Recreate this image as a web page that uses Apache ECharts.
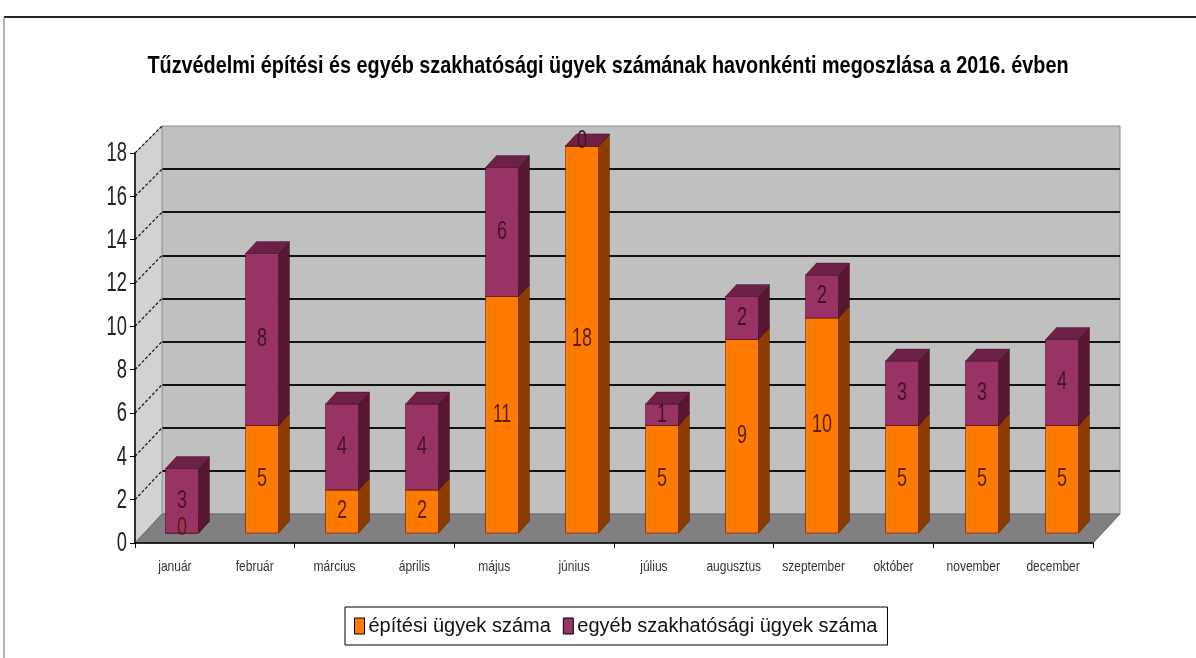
<!DOCTYPE html>
<html>
<head>
<meta charset="utf-8">
<script src="https://cdn.jsdelivr.net/npm/echarts@6/dist/echarts.min.js"></script>
<style>html,body{margin:0;padding:0;background:#fff}#c{width:1196px;height:658px}</style>
</head>
<body>
<div id="c"></div>
<script>
// ---- data ----
const categories = ['január','február','március','április','május','június','július','augusztus','szeptember','október','november','december'];
const epitesi = [0, 5, 2, 2, 11, 18, 5, 9, 10, 5, 5, 5];
const egyeb   = [3, 8, 4, 4, 6, 0, 1, 2, 2, 3, 3, 4];
const yMin = 0, yMax = 18, yStep = 2;
const titleText = 'Tűzvédelmi építési és egyéb szakhatósági ügyek számának havonkénti megoszlása a 2016. évben';
const seriesNames = ['építési ügyek száma', 'egyéb szakhatósági ügyek száma'];

// ---- layout ----
const W = 1196, H = 658;
const FRONT = {left: 135, right: 1093, top: 153, bottom: 543};
const BACK  = {left: 162, right: 1120, top: 126, bottom: 514};
const BARS  = {left: 142, right: 1102, top: 146, bottom: 533};
const BAR_W = 33, DX = 11, DY = 12;
const FONT = '"Liberation Sans", Arial, sans-serif';

const colors = {
  ep: {front: '#FF7A00', side: '#8E3C00', top: '#C05A00', text: '#5a1c08'},
  eg: {front: '#993366', side: '#561634', top: '#6E2148', text: '#45102c'}
};

const chart = echarts.init(document.getElementById('c'), null, {renderer: 'canvas'});

function makeData(base, vals, k) {
  return vals.map((v, i) => [i, base[i], base[i] + v, v, k]);
}
const zeros = categories.map(() => 0);
const dataEp = makeData(zeros, epitesi, 0);
const dataEg = makeData(epitesi, egyeb, 1);

function renderer(c) {
  return function (params, api) {
    const i = api.value(0), b = api.value(1), t = api.value(2);
    const p0 = api.coord([i, b]);
    const p1 = api.coord([i, t]);
    const x0 = p0[0] - BAR_W / 2, x1 = x0 + BAR_W;
    const yb = p0[1], yt = p1[1];
    const stroke = 'rgba(40,0,10,0.55)';
    return {
      type: 'group',
      children: [
        {type: 'polygon', shape: {points: [[x1, yt], [x1 + DX, yt - DY], [x1 + DX, yb - DY], [x1, yb]]},
         style: {fill: c.side, stroke: stroke, lineWidth: 0.6}},
        {type: 'rect', shape: {x: x0, y: yt, width: BAR_W, height: yb - yt},
         style: {fill: c.front, stroke: stroke, lineWidth: 0.8}},
        {type: 'polygon', shape: {points: [[x0, yt], [x0 + DX, yt - DY], [x1 + DX, yt - DY], [x1, yt]]},
         style: {fill: c.top, stroke: stroke, lineWidth: 0.6}}
      ]
    };
  };
}

function labelRenderer(params, api) {
  const i = api.value(0), b = api.value(1), t = api.value(2), v = api.value(3), k = api.value(4);
  const p0 = api.coord([i, b]);
  const p1 = api.coord([i, t]);
  const c = k === 0 ? colors.ep : colors.eg;
  return {
    type: 'text', x: p0[0], y: (p0[1] + p1[1]) / 2 - (v === 0 ? 5 : 0), scaleX: 0.72,
    style: {text: String(v), fill: c.text, font: '25px ' + FONT, align: 'center', verticalAlign: 'middle'}
  };
}

const option = {
  animation: false,
  backgroundColor: '#fff',
  legend: {
    left: 345, top: 607,
    data: seriesNames,
    icon: 'rect', itemWidth: 10, itemHeight: 16, itemGap: 12,
    borderColor: '#000', borderWidth: 1, padding: [9, 10, 9, 9],
    itemStyle: {borderColor: '#000', borderWidth: 1},
    textStyle: {fontFamily: FONT, fontSize: 20, color: '#111', padding: [0, 0, 0, -1]}
  },
  grid: [
    {left: FRONT.left, right: W - FRONT.right, top: FRONT.top, bottom: H - FRONT.bottom, z: 3},
    {left: BARS.left, right: W - BARS.right, top: BARS.top, bottom: H - BARS.bottom},
    {left: BACK.left, right: W - BACK.right, top: BACK.top, bottom: H - BACK.bottom,
     show: true, backgroundColor: '#C0C0C0', borderColor: '#8a8a8a', borderWidth: 1, z: 0}
  ],
  xAxis: [
    {gridIndex: 0, type: 'category', data: categories,
     axisLine: {lineStyle: {color: '#000', width: 1.5}},
     axisTick: {show: true, length: 5, lineStyle: {color: '#000'}},
     axisLabel: {show: false},
     z: 5},
    {gridIndex: 1, type: 'category', data: categories, show: false},
    {gridIndex: 2, type: 'category', data: categories, show: false}
  ],
  yAxis: [
    {gridIndex: 0, type: 'value', min: yMin, max: yMax, interval: yStep,
     axisLine: {show: true, lineStyle: {color: '#000', width: 1.5}},
     axisTick: {show: true, length: 5, lineStyle: {color: '#000'}},
     axisLabel: {show: false},
     splitLine: {show: false}, z: 5},
    {gridIndex: 1, type: 'value', min: yMin, max: yMax, interval: yStep, show: false, splitLine: {show: false}},
    {gridIndex: 2, type: 'value', min: yMin, max: yMax, interval: yStep,
     axisLine: {show: false}, axisTick: {show: false}, axisLabel: {show: false},
     splitLine: {show: true, showMinLine: false, showMaxLine: false, lineStyle: {color: '#111', width: 2}}}
  ],
  series: [
    {name: seriesNames[0], type: 'custom', xAxisIndex: 1, yAxisIndex: 1, z: 10,
     itemStyle: {color: colors.ep.front},
     renderItem: renderer(colors.ep), data: dataEp},
    {name: seriesNames[1], type: 'custom', xAxisIndex: 1, yAxisIndex: 1, z: 11,
     itemStyle: {color: colors.eg.front},
     renderItem: renderer(colors.eg), data: dataEg},
    {name: 'labels', type: 'custom', xAxisIndex: 1, yAxisIndex: 1, z: 12, silent: true,
     renderItem: labelRenderer, data: dataEp.concat(dataEg)}
  ]
};
chart.setOption(option);

// ---- walls, floor, depth tick lines and narrow-style texts (positions from the axes' scales) ----
const g = [];
const yF = v => chart.convertToPixel({yAxisIndex: 0}, v);
const yB = v => chart.convertToPixel({yAxisIndex: 2}, v);
const xF = i => chart.convertToPixel({xAxisIndex: 0}, i);
// left side wall
g.push({type: 'polygon', z: 1, shape: {points: [[FRONT.left, yF(yMin)], [BACK.left, yB(yMin)], [BACK.left, yB(yMax)], [FRONT.left, yF(yMax)]]},
  style: {fill: '#D2D2D2', stroke: '#9a9a9a', lineWidth: 1}});
// floor
g.push({type: 'polygon', z: 2, shape: {points: [[FRONT.left, yF(yMin)], [FRONT.right, yF(yMin)], [BACK.right, yB(yMin)], [BACK.left, yB(yMin)]]},
  style: {fill: '#808080', stroke: '#6a6a6a', lineWidth: 1}});
// dashed depth lines + value labels
for (let v = yMin; v <= yMax; v += yStep) {
  if (v > yMin) {
    g.push({type: 'line', z: 2, shape: {x1: FRONT.left, y1: yF(v), x2: BACK.left, y2: yB(v)},
      style: {stroke: '#111', lineWidth: 1.2, lineDash: [3, 2]}});
  }
  g.push({type: 'text', z: 6, x: FRONT.left - 8, y: yF(v) + 1, scaleX: 0.68,
    style: {text: String(v), fill: '#222', font: '27px ' + FONT, align: 'right', verticalAlign: 'middle'}});
}
// month labels
categories.forEach((c, i) => {
  g.push({type: 'text', z: 6, x: xF(i), y: FRONT.bottom + 24, scaleX: 0.8,
    style: {text: c, fill: '#333', font: '15px ' + FONT, align: 'center', verticalAlign: 'middle'}});
});
// title
g.push({type: 'text', z: 6, x: 608, y: 66, scaleX: 0.825,
  style: {text: titleText, fill: '#000', font: 'bold 24px ' + FONT, align: 'center', verticalAlign: 'middle'}});
// outer frame
g.push({type: 'line', z: 0, shape: {x1: 4, y1: 17, x2: W, y2: 17}, style: {stroke: '#222', lineWidth: 2}});
g.push({type: 'line', z: 0, shape: {x1: 4, y1: 17, x2: 4, y2: H}, style: {stroke: '#666', lineWidth: 1}});
chart.setOption({graphic: {elements: g}});
</script>
</body>
</html>
